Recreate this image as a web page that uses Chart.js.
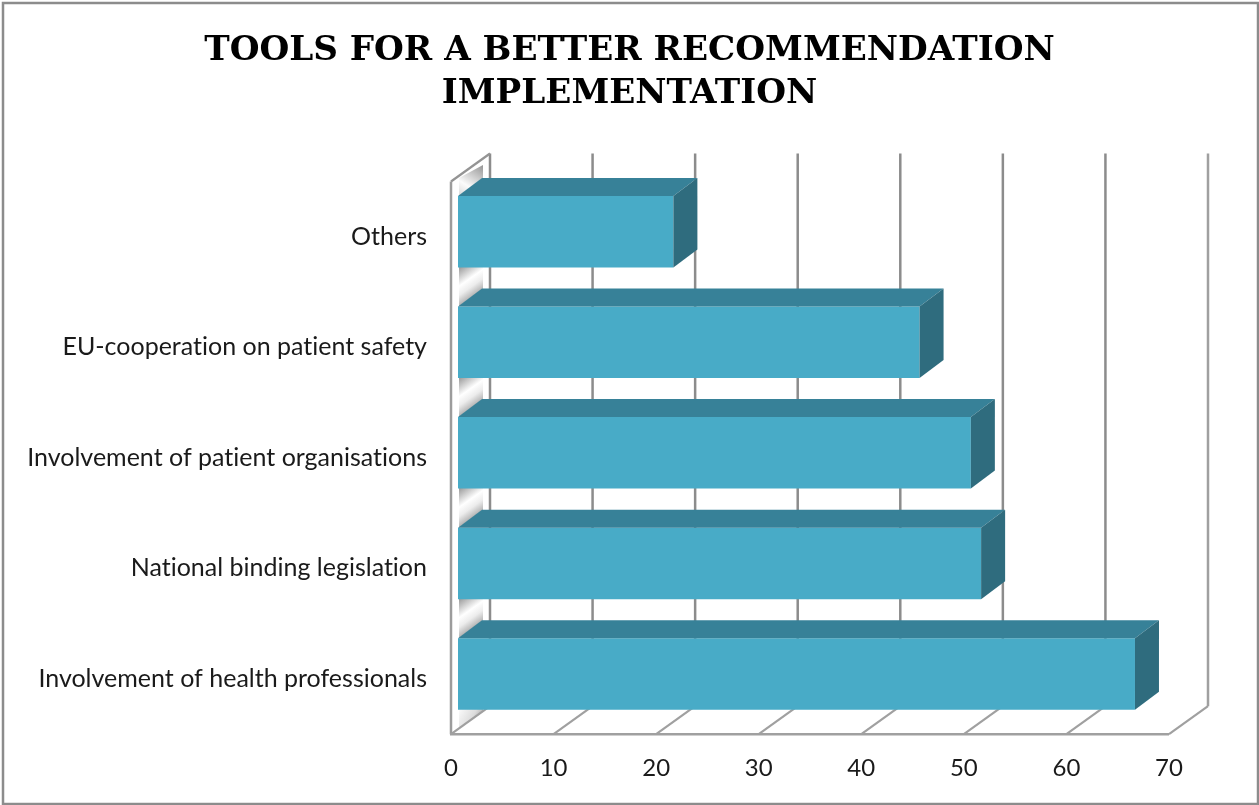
<!DOCTYPE html>
<html><head><meta charset="utf-8">
<style>html,body{margin:0;padding:0;background:#fff;overflow:hidden}canvas{display:block}</style>
<script src="https://cdn.jsdelivr.net/npm/chart.js@4"></script></head>
<body><div style="width:1259px;height:805px;position:relative"><canvas id="c"></canvas></div>
<script>
const categories = ["Others","EU-cooperation on patient safety","Involvement of patient organisations","National binding legislation","Involvement of health professionals"];
const values = [21,45,50,51,66];
const titleLines = ["TOOLS FOR A BETTER RECOMMENDATION","IMPLEMENTATION"];
const tickValues = [0,10,20,30,40,50,60,70];
const wallDepth = {dx:39,dy:-28}, barOffset = {dx:7,dy:-5}, barDepth = {dx:24,dy:-18};
const BAR_SHARE = 0.647;
const poly=(ctx,pts,fill)=>{ctx.beginPath();pts.forEach((p,i)=>i?ctx.lineTo(p[0],p[1]):ctx.moveTo(p[0],p[1]));ctx.closePath();if(fill){ctx.fillStyle=fill;ctx.fill();}};
const line=(ctx,x1,y1,x2,y2,c,w)=>{ctx.strokeStyle=c;ctx.lineWidth=w;ctx.beginPath();ctx.moveTo(x1,y1);ctx.lineTo(x2,y2);ctx.stroke();};
const grad=(ctx,x1,y1,x2,y2,stops)=>{const g=ctx.createLinearGradient(x1,y1,x2,y2);stops.forEach(s=>g.addColorStop(s[0],s[1]));return g;};
const threeD = {
  id:'threeD',
  beforeDraw(chart){ chart.ctx.textRendering='optimizeSpeed'; },
  beforeDatasetsDraw(chart){
    const {ctx,scales:{x,y}}=chart, a=chart.chartArea, d=wallDepth, b=barDepth, o=barOffset;
    ctx.save();
    const band=(a.bottom-a.top)/categories.length, h=band*BAR_SHARE/2;
    const g0=x.getPixelForValue(0), x1=g0+o.dx+1, x2=x1+b.dx;
    const stops=[[0,'#969696'],[.42,'#ffffff'],[.62,'#ececec'],[1,'#8c8c8c']];
    // shaded strips on the side wall, visible between the bars
    for(let i=0;i<categories.length-1;i++){
      const yb=y.getPixelForValue(i)+h+o.dy, yn=y.getPixelForValue(i+1)-h+o.dy;
      poly(ctx,[[x1,yb-2],[x2,yb-2],[x2,yn+b.dy],[x1,yn]],grad(ctx,x1+3,yb-3,x1+25,yb+28,stops));
    }
    const yf=y.getPixelForValue(0)-h+o.dy;
    poly(ctx,[[x1,yf-18],[x2,yf-31],[x2,yf+b.dy],[x1,yf]],grad(ctx,x2,yf-31,x1+4,yf,[[0,'#949494'],[.7,'#fbfbfb'],[1,'#dedede']]));
    const yl=y.getPixelForValue(categories.length-1)+h+o.dy;
    poly(ctx,[[x1,yl-2],[x2,yl-2],[x2,yl+2],[x1,yl+19]],grad(ctx,x1,yl,x2,yl+14,[[0,'#fafafa'],[.55,'#dcdcdc'],[1,'#909090']]));
    // gridlines from the x scale
    tickValues.forEach(v=>{
      const px=x.getPixelForValue(v);
      if(v>0) line(ctx,px,a.bottom,px+d.dx,a.bottom+d.dy,'#a0a0a0',2.2);
      line(ctx,px+d.dx,a.top+d.dy,px+d.dx,a.bottom+d.dy,v===70?'#a0a0a0':'#8c8c8c',2.5);
    });
    line(ctx,g0,a.bottom,g0+d.dx,a.bottom+d.dy,'#a0a0a0',2.2);
    line(ctx,g0,a.top,g0+d.dx,a.top+d.dy,'#949494',2.2);
    line(ctx,g0,a.top,g0,a.bottom,'#9c9c9c',2.5);
    line(ctx,g0-1,a.bottom,x.getPixelForValue(70),a.bottom,'#a0a0a0',2.5);
    ctx.restore();
  },
  beforeDatasetDraw(chart){chart.ctx.save();chart.ctx.translate(barOffset.dx,barOffset.dy);},
  afterDatasetDraw(chart){chart.ctx.restore();},
  afterDatasetsDraw(chart){
    const {ctx}=chart, meta=chart.getDatasetMeta(0), b=barDepth, o=barOffset;
    ctx.save();
    meta.data.forEach(el=>{
      const p=el.getProps(['x','y','base','height'],true);
      const l=p.base+o.dx, r=p.x+o.dx, t=p.y-p.height/2+o.dy, bt=p.y+p.height/2+o.dy;
      poly(ctx,[[l,t],[l+b.dx,t+b.dy],[r+b.dx,t+b.dy],[r,t]],'#378198');
      poly(ctx,[[r,t],[r+b.dx,t+b.dy],[r+b.dx,bt+b.dy],[r,bt]],'#2f6c7e');
    });
    // outer frame
    ctx.strokeStyle='#8c8c8c';ctx.lineWidth=2.5;ctx.strokeRect(3,3,1255,801);
    ctx.restore();
  }
};
new Chart(document.getElementById('c'),{
  type:'bar',
  data:{labels:categories,datasets:[{data:values,backgroundColor:'#48abc7',barPercentage:BAR_SHARE,categoryPercentage:1,borderWidth:0}]},
  options:{
    indexAxis:'y',responsive:true,maintainAspectRatio:false,animation:false,
    layout:{padding:{left:0,right:0,top:30,bottom:10}},
    plugins:{legend:{display:false},tooltip:{enabled:false},
      title:{display:true,text:titleLines,color:'#000',font:{family:'"DejaVu Serif"',weight:'bold',size:34.2,lineHeight:1.25},padding:{top:0,bottom:66}}},
    scales:{
      x:{min:0,max:70,afterBuildTicks(s){s.ticks=tickValues.map(v=>({value:v}));},
        afterFit(s){s.paddingRight=90;},
        grid:{display:false},border:{display:false},
        ticks:{color:'#1a1a1a',font:{family:'Lato',size:24},padding:12,maxRotation:0,autoSkip:false}},
      y:{grid:{display:false},border:{display:false},afterFit(s){s.width=451;},
        ticks:{color:'#1a1a1a',font:{family:'Lato',size:25},padding:16,crossAlign:'near',autoSkip:false}}
    }
  },
  plugins:[threeD]
});
</script></body></html>
